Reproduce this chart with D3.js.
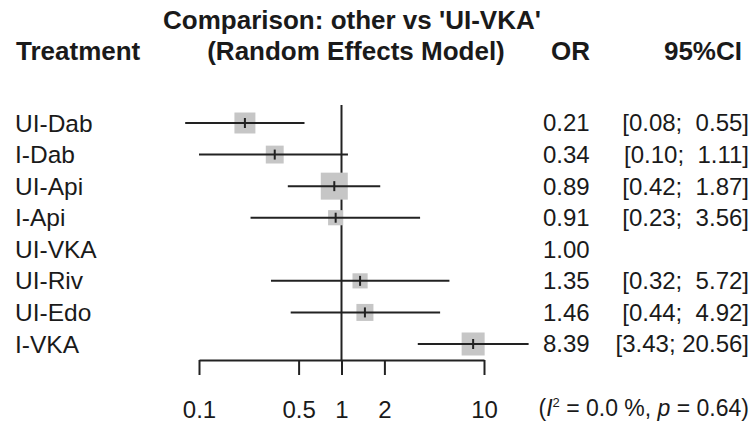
<!DOCTYPE html>
<html>
<head>
<meta charset="utf-8">
<script src="https://cdn.jsdelivr.net/npm/d3@7"></script>
<style>
  body { margin: 0; background: #fff; }
  svg text { font-family: "Liberation Sans", Arial, sans-serif; fill: #1a1a1a; }
</style>
</head>
<body>
<svg id="forest" width="752" height="424"></svg>
<script>
var treatments = ["UI-Dab", "I-Dab", "UI-Api", "I-Api", "UI-VKA", "UI-Riv", "UI-Edo", "I-VKA"];
var oddsRatio = [0.21, 0.34, 0.89, 0.91, 1.00, 1.35, 1.46, 8.39];
var ciLower = [0.08, 0.10, 0.42, 0.23, null, 0.32, 0.44, 3.43];
var ciUpper = [0.55, 1.11, 1.87, 3.56, null, 5.72, 4.92, 20.56];
var weights = [4.4, 3.2, 7.3, 2.3, null, 2.3, 2.9, 5.3];
var tickValues = [0.1, 0.5, 1, 2, 10];
var tickLabels = ["0.1", "0.5", "1", "2", "10"];

var svg = d3.select("#forest");

var x = d3.scaleLog().domain([0.1, 10]).range([199, 484]);
var y = d3.scalePoint().domain(treatments).range([123, 344]);
var size = d3.scaleSqrt().domain([0, d3.max(weights)]).range([0, 27]);
var axisY = 360;

var rows = treatments.map(function (t, i) {
  return {name: t, or: oddsRatio[i], lo: ciLower[i], hi: ciUpper[i], w: weights[i]};
});

// headings
svg.append("text")
  .attr("x", 352).attr("y", 29)
  .attr("text-anchor", "middle")
  .style("font-weight", "bold").style("font-size", "26px")
  .text("Comparison: other vs 'UI-VKA'");

var head = svg.append("g").style("font-weight", "bold").style("font-size", "26px");
head.append("text").attr("x", 16).attr("y", 60).text("Treatment");
head.append("text").attr("x", 356).attr("y", 60).attr("text-anchor", "middle").text("(Random Effects Model)");
head.append("text").attr("x", 590).attr("y", 60).attr("text-anchor", "end").text("OR");
head.append("text").attr("x", 742).attr("y", 60).attr("text-anchor", "end").text("95%CI");

// line of no effect
svg.append("line")
  .attr("x1", x(1)).attr("x2", x(1))
  .attr("y1", 105).attr("y2", axisY)
  .attr("stroke", "#222").attr("stroke-width", 2);

// x axis
var axis = d3.axisBottom(x)
  .tickValues(tickValues)
  .tickFormat(function (d, i) { return tickLabels[i]; })
  .tickSize(15)
  .tickSizeOuter(0)
  .tickPadding(26);

var axisG = svg.append("g")
  .attr("transform", "translate(0," + axisY + ")")
  .call(axis);
axisG.select(".domain").attr("stroke", "#222").attr("stroke-width", 2);
axisG.selectAll(".tick line").attr("stroke", "#222").attr("stroke-width", 2);
axisG.selectAll(".tick text")
  .attr("fill", "#1a1a1a")
  .style("font-size", "24px")
  .style("font-family", "'Liberation Sans', Arial, sans-serif");

var row = svg.selectAll("g.row")
  .data(rows)
  .enter().append("g")
  .attr("class", "row")
  .attr("transform", function (d) { return "translate(0," + y(d.name) + ")"; });

row.append("text")
  .attr("x", 15).attr("dy", "0.35em")
  .style("font-size", "24.5px")
  .text(function (d) { return d.name; });

var withCi = row.filter(function (d) { return d.lo != null; });

withCi.append("rect")
  .attr("x", function (d) { return x(d.or) - size(d.w) / 2; })
  .attr("y", function (d) { return -size(d.w) / 2; })
  .attr("width", function (d) { return size(d.w); })
  .attr("height", function (d) { return size(d.w); })
  .attr("fill", "#c6c6c6");

withCi.append("line")
  .attr("x1", function (d) { return x(d.lo); })
  .attr("x2", function (d) { return x(d.hi); })
  .attr("stroke", "#222").attr("stroke-width", 2);

withCi.append("line")
  .attr("x1", function (d) { return x(d.or); })
  .attr("x2", function (d) { return x(d.or); })
  .attr("y1", -5).attr("y2", 5)
  .attr("stroke", "#222").attr("stroke-width", 2);

row.append("text")
  .attr("x", 543).attr("dy", "0.35em")
  .style("font-size", "24px")
  .text(function (d) { return d.or.toFixed(2); });

withCi.append("text")
  .attr("x", 749).attr("dy", "0.35em")
  .attr("text-anchor", "end")
  .style("font-size", "24px")
  .style("white-space", "pre")
  .text(function (d) {
    var hi = d.hi.toFixed(2);
    return "[" + d.lo.toFixed(2) + "; " + (hi.length < 5 ? "\u00a0" : "") + hi + "]";
  });

// heterogeneity
var het = svg.append("text")
  .attr("x", 749).attr("y", 416)
  .attr("text-anchor", "end")
  .style("font-size", "23px");
het.append("tspan").text("(");
het.append("tspan").style("font-style", "italic").text("I");
het.append("tspan").attr("dy", -9).style("font-size", "13px").text("2");
het.append("tspan").attr("dy", 9).text(" = 0.0 %, ");
het.append("tspan").style("font-style", "italic").text("p");
het.append("tspan").text(" = 0.64)");
</script>
</body>
</html>
